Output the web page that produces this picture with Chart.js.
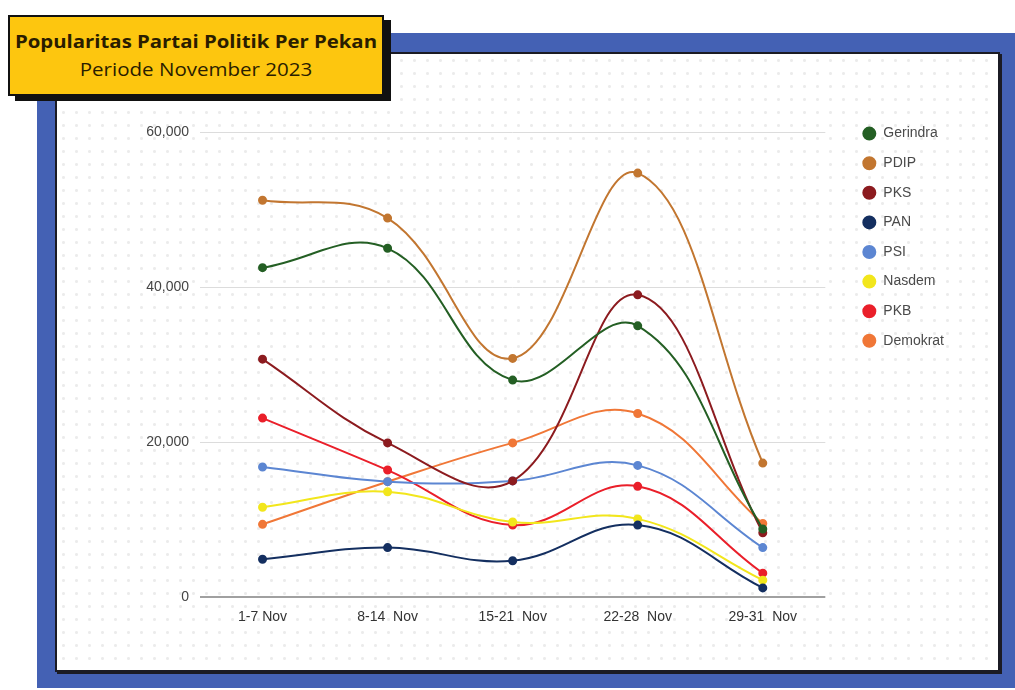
<!DOCTYPE html>
<html>
<head>
<meta charset="utf-8">
<script src="https://cdn.jsdelivr.net/npm/chart.js@4"></script>
<style>
  html, body { margin: 0; padding: 0; background: #ffffff; width: 1015px; height: 690px; overflow: hidden; }
  #frame { position: absolute; left: 37px; top: 33px; width: 978px; height: 655px; background: #4461b4; }
  #panel { position: absolute; left: 55px; top: 52px; width: 941px; height: 616px; background-color: #ffffff;
           background-image: radial-gradient(rgba(200,200,200,0.35) 1.2px, transparent 1.8px);
           background-size: 13px 13px;
           border: 2px solid #1b1b24; box-shadow: 2px 2px 0 #1b1b24; }
  #titlebox { position: absolute; left: 8px; top: 15px; width: 372px; height: 77px; background: #fdc60f;
              border: 2px solid #111; box-shadow: 7px 5px 0 #111; text-align: center; color: #2a1d00;
              font-family: "Open Sans", "Lato", sans-serif; }
  #t1 { position: absolute; left: 0; right: 0; top: 12px; font-size: 18px; font-weight: 700; transform: scaleX(1.13); }
  #t2 { position: absolute; left: 0; right: 0; top: 40px; font-size: 18px; font-weight: 400; transform: scaleX(1.14); }
  #wrap { position: absolute; left: 100px; top: 100px; width: 900px; height: 540px; }
</style>
</head>
<body>
<div id="frame"></div>
<div id="panel"></div>
<div id="titlebox"><div id="t1">Popularitas Partai Politik Per Pekan</div><div id="t2">Periode November 2023</div></div>
<div id="wrap"><canvas id="c"></canvas></div>
<script>
const categories = ["1-7 Nov", "8-14  Nov", "15-21  Nov", "22-28  Nov", "29-31  Nov"];
const seriesNames = ["Gerindra", "PDIP", "PKS", "PAN", "PSI", "Nasdem", "PKB", "Demokrat"];
const gerindra = [42500, 45000, 28000, 35000, 8800];
const pdip     = [51200, 48900, 30800, 54700, 17300];
const pks      = [30700, 19900, 15000, 39000, 8300];
const pan      = [4900, 6400, 4700, 9300, 1200];
const psi      = [16800, 14900, 15000, 17000, 6400];
const nasdem   = [11600, 13600, 9700, 10100, 2200];
const pkb      = [23100, 16400, 9300, 14300, 3100];
const demokrat = [9400, 14900, 19900, 23700, 9500];
const yTicks = [0, 20000, 40000, 60000];

const colors = ["#245f24", "#c27630", "#8c1b1f", "#142f60", "#5c86d2", "#f2e61c", "#ea1f2a", "#f07737"];
const values = [gerindra, pdip, pks, pan, psi, nasdem, pkb, demokrat];

const datasets = seriesNames.map((name, i) => ({
  label: name,
  data: values[i],
  borderColor: colors[i],
  backgroundColor: colors[i],
  pointBackgroundColor: colors[i],
  pointBorderColor: colors[i],
  borderWidth: 2,
  pointRadius: 3.5,
  tension: 0.4,
  fill: false,
  xAxisID: "x",
  yAxisID: "y"
}));

const tickFont = { family: "Liberation Sans, Arial, sans-serif", size: 14 };

new Chart(document.getElementById("c"), {
  type: "line",
  data: { labels: categories, datasets: datasets },
  options: {
    responsive: true,
    maintainAspectRatio: false,
    animation: false,
    layout: { padding: { top: 11, right: 46, bottom: 2, left: 0 } },
    plugins: {
      legend: {
        position: "right",
        align: "start",
        labels: {
          usePointStyle: true,
          pointStyle: "circle",
          boxWidth: 14,
          boxHeight: 8.5,
          padding: 15.6,
          color: "#4a4a4a",
          font: tickFont
        }
      },
      tooltip: { enabled: false }
    },
    scales: {
      x: {
        offset: true,
        grid: { display: false, drawTicks: false },
        border: { display: false },
        ticks: { color: "#333", padding: 12, font: tickFont, maxRotation: 0 }
      },
      xTop: {
        position: "top",
        type: "category",
        labels: [""],
        grid: { display: false, drawTicks: false },
        border: { display: false },
        ticks: { display: false },
        afterFit: (s) => { s.height = 21; }
      },
      y: {
        min: 0, max: 60000,
        afterFit: (s) => { s.width = 100; },
        afterBuildTicks: (s) => { s.ticks = yTicks.map(v => ({ value: v })); },
        border: { display: false },
        grid: {
          drawTicks: false,
          color: (ctx) => ctx.tick && ctx.tick.value === 0 ? "#a0a0a0" : "#dcdcdc",
          lineWidth: (ctx) => ctx.tick && ctx.tick.value === 0 ? 2 : 1
        },
        ticks: {
          color: "#444",
          padding: 11,
          font: tickFont,
          callback: (v) => v.toLocaleString("en-US")
        }
      },
      yRight: {
        position: "right",
        type: "linear",
        grid: { display: false, drawTicks: false },
        border: { display: false },
        ticks: { display: false },
        afterFit: (s) => { s.width = 21.4; }
      }
    }
  }
});
</script>
</body>
</html>
